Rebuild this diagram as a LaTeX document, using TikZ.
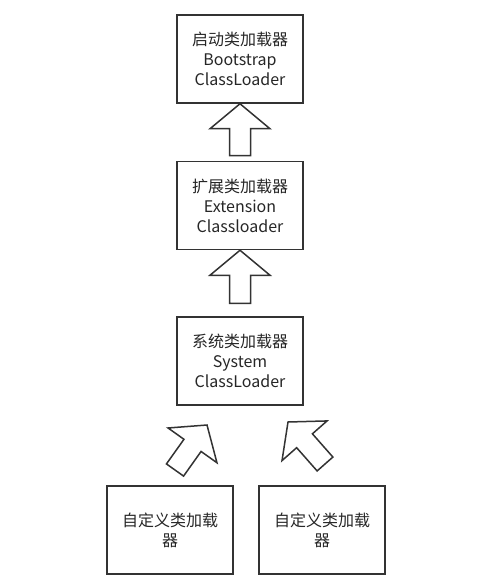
\documentclass[tikz,border=0pt]{standalone}
\usepackage{fontspec}
\setmainfont{Noto Sans CJK SC}
\usetikzlibrary{calc}
\tikzset{
  loader/.style={draw=black!80, line width=1.5pt, minimum width=126pt, minimum height=88pt,
    align=center, text=black!85, font=\fontsize{16pt}{20pt}\selectfont},
  blockline/.style={draw=black!80, line width=1.5pt, line join=miter}
}
% block arrow from #1 (back) to #2 (tip)
\newcommand{\blockarrow}[2]{%
  \draw[blockline] (#2) -- ($(#2)!25pt!(#1)!30pt!90:(#1)$) -- ($(#2)!25pt!(#1)!10.5pt!90:(#1)$)
    -- ($(#1)!10.5pt!-90:(#2)$) -- ($(#1)!10.5pt!90:(#2)$)
    -- ($(#2)!25pt!(#1)!10.5pt!-90:(#1)$) -- ($(#2)!25pt!(#1)!30pt!-90:(#1)$) -- cycle;}
\begin{document}
\begin{tikzpicture}[x=1pt,y=-1pt]
\useasboundingbox (0,0) rectangle (486,585);
\node[loader] (boot) at (240,59) {启动类加载器\\Bootstrap\\ClassLoader};
\node[loader] (ext) at (240,205.5) {扩展类加载器\\Extension\\Classloader};
\node[loader] (sys) at (240,361) {系统类加载器\\System\\ClassLoader};
\node[loader] (custA) at (170,530) {自定义类加载\\器};
\node[loader] (custB) at (322,530) {自定义类加载\\器};
\coordinate (e1) at ($(ext.north)+(0,-5)$);
\coordinate (s1) at ($(sys.north)+(0,-13)$);
\coordinate (a1) at (175,470);
\coordinate (a2) at (207,425);
\coordinate (b1) at (325,464);
\coordinate (b2) at (288,422);
\blockarrow{e1}{boot.south}
\blockarrow{s1}{ext.south}
\blockarrow{a1}{a2}
\blockarrow{b1}{b2}
\end{tikzpicture}
\end{document}
